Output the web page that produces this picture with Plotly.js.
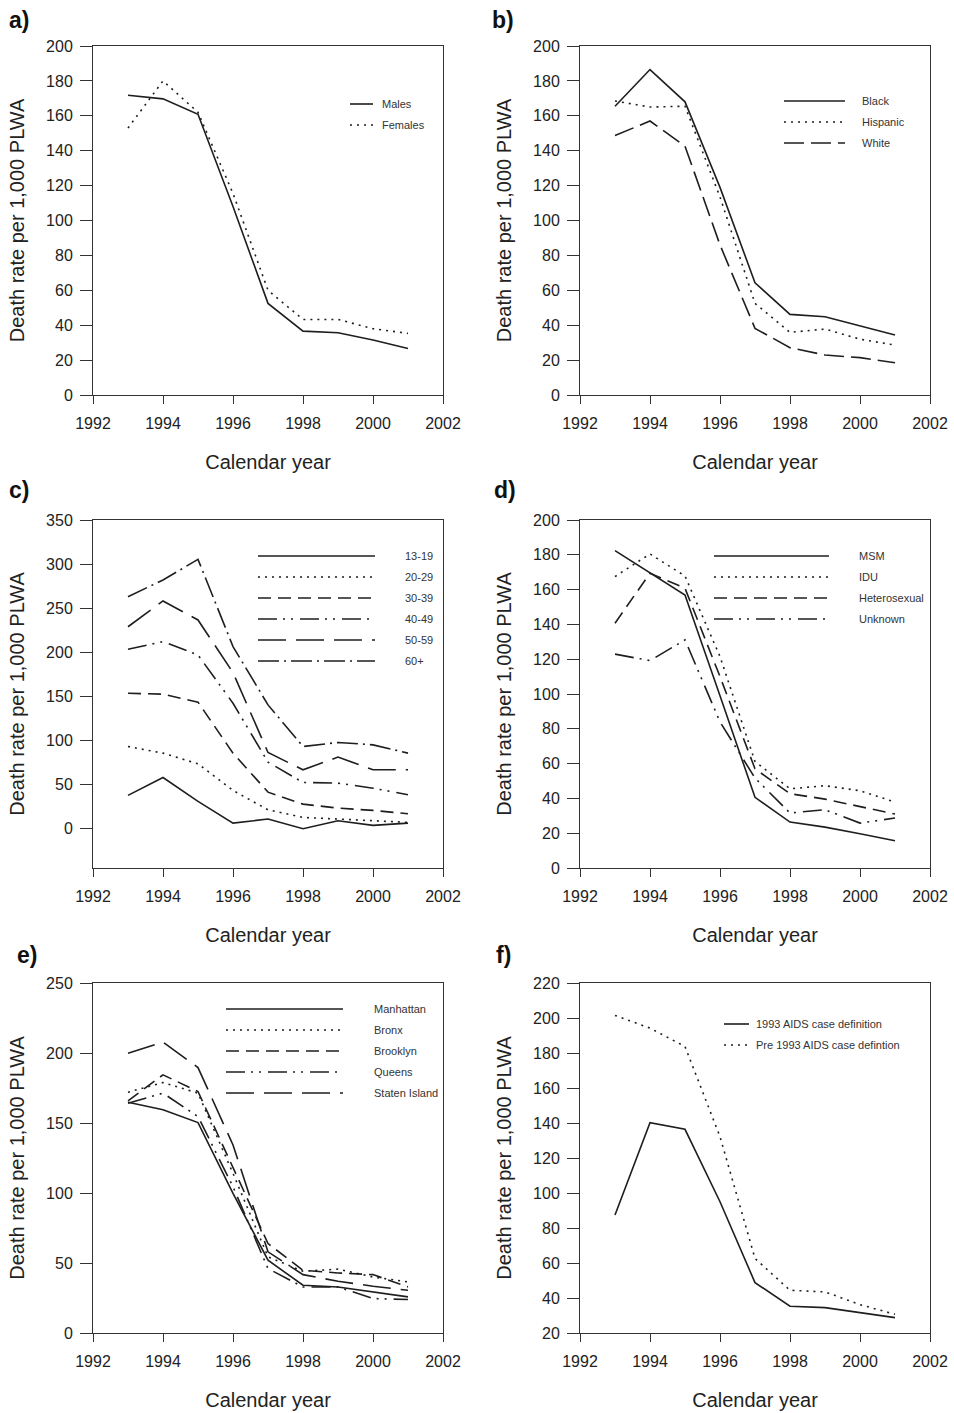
<!DOCTYPE html>
<html>
<head>
<meta charset="utf-8">
<script src="https://cdn.plot.ly/plotly-3.0.1.min.js"></script>
<style>
html,body{margin:0;padding:0;background:#fff;}
#chart{width:954px;height:1413px;}
</style>
</head>
<body>
<div id="chart"></div>
<script>
// ---------- DATA ----------
const years = [1993, 1994, 1995, 1996, 1997, 1998, 1999, 2000, 2001];

// a) Sex
const sexNames = ["Males", "Females"];
const males   = [171.8, 169.7, 160.9, 108, 52.5, 36.6, 35.7, 31.5, 26.7];
const females = [153, 180, 162, 115.5, 60, 43.3, 43.3, 38, 35.3];

// b) Race/ethnicity
const raceNames = ["Black", "Hispanic", "White"];
const black    = [165.5, 186.5, 168, 119, 64.3, 46.2, 44.8, 39.5, 34.4];
const hispanic = [168.5, 165, 165.5, 113.5, 52.5, 35.9, 37.8, 32, 28.6];
const white    = [148.7, 157, 142.6, 86, 38.2, 27.1, 22.9, 21.4, 18.5];

// c) Age group
const ageNames = ["13-19", "20-29", "30-39", "40-49", "50-59", "60+"];
const age13_19 = [37.8, 58.1, 31, 6.4, 11, 0, 9, 3.8, 6.4];
const age20_29 = [93.2, 85.7, 73.6, 43.4, 21.5, 12.8, 11, 9, 7.2];
const age30_39 = [153.6, 152.5, 143.5, 85.7, 41.5, 27.9, 23.4, 20.8, 17];
const age40_49 = [203.5, 212.2, 197, 142.3, 75.5, 52.5, 51.7, 46, 38.5];
const age50_59 = [229, 258.2, 236.7, 177, 86.4, 66.8, 81.2, 66.8, 66.8];
const age60p   = [263.1, 282, 305.4, 206.5, 140.4, 93.2, 97.8, 95.1, 85.7];

// d) Transmission risk
const riskNames = ["MSM", "IDU", "Heterosexual", "Unknown"];
const msm     = [182.4, 169.4, 156.9, 99, 40.6, 26.4, 23.5, 19.7, 15.7];
const idu     = [167.5, 180.5, 167.8, 121.5, 61.2, 45.5, 47.3, 44.4, 37.9];
const hetero  = [140.7, 169.4, 160.8, 110, 57, 42.7, 39.6, 35.4, 31];
const unknown = [122.9, 119.2, 131.1, 84, 51.7, 31.6, 33.5, 25.8, 28.7];

// e) Borough
const boroNames = ["Manhattan", "Bronx", "Brooklyn", "Queens", "Staten Island"];
const manhattan = [164.8, 159.4, 150.3, 99.7, 52, 34.1, 32.9, 29.3, 25.8];
const bronx     = [172, 178.9, 171.3, 114, 54.4, 44.1, 45.6, 40, 36.5];
const brooklyn  = [165.8, 184.4, 172.5, 118.8, 63.9, 44.8, 42.9, 41.7, 32.9];
const queens    = [164.1, 171.3, 154.6, 104.5, 46, 32.9, 32.9, 24.6, 23.9];
const staten    = [199.9, 207.8, 189.6, 134.3, 58, 41.7, 37, 33.4, 30.5];

// f) AIDS case definition
const defNames = ["1993 AIDS case definition", "Pre 1993 AIDS case defintion"];
const def1993  = [87.4, 140.2, 136.4, 95, 48.8, 35.3, 34.5, 31.6, 28.8];
const defPre   = [201.5, 194.2, 183.7, 132.2, 62.6, 44.4, 43.5, 36.2, 30.7];

const panelLabels = ["a)", "b)", "c)", "d)", "e)", "f)"];
const xTitle = "Calendar year";
const yTitle = "Death rate per 1,000 PLWA";

// ---------- STYLE ----------
const W = 954, H = 1413;
const PX = x => x / W;
const PY = y => 1 - y / H;
const INK = "#1e1e1e";
const FONT = "Liberation Sans, Arial, Helvetica, sans-serif";
const D = {
  solid: "solid",
  dot: "2px,5px",
  dash: "13px,7px",
  dashdotdot: "19px,6px,2px,6px,2px,7px",
  longdash: "28px,10px",
  meddash: "20px,7px",
  dashdot: "21px,5px,2px,5px"
};

const panels = [
  {names: sexNames, series: [males, females], dashes: [D.solid, D.dot],
   range: [0, 200], dtick: 20, col: 0, row: 0,
   leg: {x0: 350, x1: 373, y0: 104, dy: 21, tx: 380}},
  {names: raceNames, series: [black, hispanic, white], dashes: [D.solid, D.dot, D.meddash],
   range: [0, 200], dtick: 20, col: 1, row: 0,
   leg: {x0: 784, x1: 845, y0: 101, dy: 21, tx: 860}},
  {names: ageNames, series: [age13_19, age20_29, age30_39, age40_49, age50_59, age60p],
   dashes: [D.solid, D.dot, D.dash, D.dashdotdot, D.longdash, D.dashdot],
   range: [-44.5, 350], dtick: 50, col: 0, row: 1,
   leg: {x0: 258, x1: 375, y0: 556, dy: 21, tx: 403}},
  {names: riskNames, series: [msm, idu, hetero, unknown],
   dashes: [D.solid, D.dot, D.dash, D.dashdotdot],
   range: [0, 200], dtick: 20, col: 1, row: 1,
   leg: {x0: 714, x1: 829, y0: 556, dy: 21, tx: 857}},
  {names: boroNames, series: [manhattan, bronx, brooklyn, queens, staten],
   dashes: [D.solid, D.dot, D.dash, D.dashdotdot, D.longdash],
   range: [0, 250], dtick: 50, col: 0, row: 2,
   leg: {x0: 226, x1: 343, y0: 1009, dy: 21, tx: 372}},
  {names: defNames, series: [def1993, defPre], dashes: [D.solid, D.dot],
   range: [20, 220], dtick: 20, col: 1, row: 2,
   leg: {x0: 724, x1: 749, y0: 1024, dy: 21, tx: 754}}
];

const colX = [[93, 443], [580, 930]];
const rowY = [[46, 395], [520, 868], [983, 1333]];
const labelPos = [[7, 20], [490, 20], [7, 490], [492, 490], [15, 955], [494, 955]];

const data = [];
const layout = {
  width: W, height: H,
  margin: {l: 0, r: 0, t: 0, b: 0},
  paper_bgcolor: "#fff", plot_bgcolor: "#fff",
  showlegend: false,
  font: {family: FONT, color: "#222"},
  shapes: [], annotations: []
};

panels.forEach((p, i) => {
  const n = i + 1;
  const xa = "x" + (n === 1 ? "" : n), ya = "y" + (n === 1 ? "" : n);
  const xk = "xaxis" + (n === 1 ? "" : n), yk = "yaxis" + (n === 1 ? "" : n);
  const cx = colX[p.col], ry = rowY[p.row];

  p.series.forEach((s, k) => {
    data.push({
      type: "scatter", mode: "lines", x: years, y: s, name: p.names[k],
      xaxis: xa, yaxis: ya,
      line: {color: INK, width: 1.6, dash: p.dashes[k]},
      hoverinfo: "x+y+name"
    });
    // legend sample + label
    const yy = p.leg.y0 + k * p.leg.dy;
    layout.shapes.push({
      type: "line", xref: "paper", yref: "paper",
      x0: PX(p.leg.x0), x1: PX(p.leg.x1), y0: PY(yy), y1: PY(yy),
      line: {color: INK, width: 1.6, dash: p.dashes[k]}
    });
    layout.annotations.push({
      xref: "paper", yref: "paper", x: PX(p.leg.tx), y: PY(yy),
      xanchor: "left", yanchor: "middle", showarrow: false,
      text: p.names[k], font: {size: 11, color: "#333", family: FONT}
    });
  });

  layout[xk] = {
    domain: [PX(cx[0]), PX(cx[1])], anchor: ya,
    range: [1992, 2002], tick0: 1992, dtick: 2, tickmode: "linear",
    ticks: "outside", ticklen: 8, tickwidth: 1, tickcolor: "#333",
    showline: true, linecolor: "#333", linewidth: 1, mirror: true,
    showgrid: false, zeroline: false, fixedrange: true,
    tickfont: {size: 16, color: "#222", family: FONT},
    ticklabelstandoff: 6,
    title: {text: xTitle, font: {size: 20, color: "#222", family: FONT}, standoff: 23}
  };
  layout[yk] = {
    domain: [PY(ry[1]), PY(ry[0])], anchor: xa,
    range: p.range, tick0: 0, dtick: p.dtick, tickmode: "linear",
    ticks: "outside", ticklen: 12, tickwidth: 1, tickcolor: "#333",
    showline: true, linecolor: "#333", linewidth: 1, mirror: true,
    showgrid: false, zeroline: false, fixedrange: true,
    tickfont: {size: 16, color: "#222", family: FONT},
    ticklabelstandoff: 4,
    title: {text: yTitle, font: {size: 20, color: "#222", family: FONT}, standoff: 16}
  };

  layout.annotations.push({
    xref: "paper", yref: "paper", x: PX(labelPos[i][0]), y: PY(labelPos[i][1]),
    xanchor: "left", yanchor: "middle", showarrow: false,
    text: "<b>" + panelLabels[i] + "</b>", font: {size: 23, color: "#111", family: FONT}
  });
});

// restrict tick labels in panel c to 0..350
layout.yaxis3.tickmode = "array";
layout.yaxis3.tickvals = [0, 50, 100, 150, 200, 250, 300, 350];

Plotly.newPlot("chart", data, layout, {displayModeBar: false, staticPlot: true});
</script>
</body>
</html>
